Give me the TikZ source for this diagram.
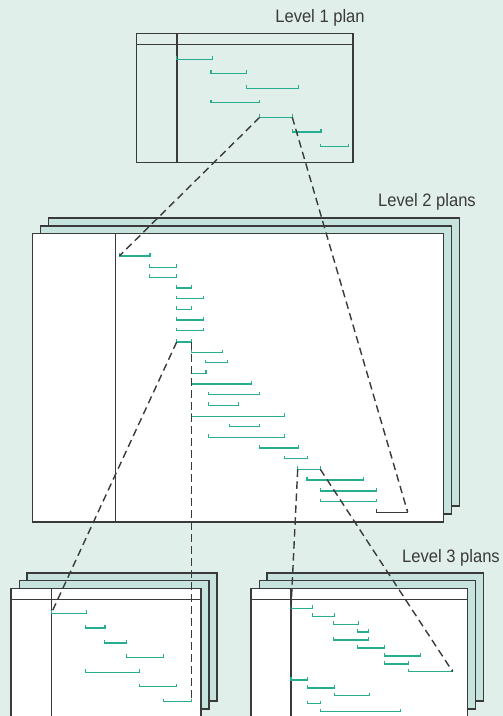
\documentclass[tikz,border=0pt]{standalone}
\usepackage{graphicx}
\usepackage{xcolor}
\usepackage{fontspec}
\setmainfont{Liberation Sans}
\definecolor{bgteal}{HTML}{E1EFEB}
\definecolor{sheetteal}{HTML}{C6E4DD}
\definecolor{barteal}{HTML}{27AD90}
\definecolor{framegray}{HTML}{3A3A3A}
\newcommand{\task}[5][barteal]{%
  \draw[taskbar, draw=#1] (#3,#5-3) -- (#3,#5) coordinate (#2-l) -- (#4,#5) coordinate (#2-r) -- (#4,#5-3);}
\newcommand{\plancaption}[1]{\scalebox{0.92}[1]{#1}}

\begin{document}
\begin{tikzpicture}[x=1pt, y=-1pt,
    frame/.style={draw=framegray, line width=1.6pt},
    sheet/.style={frame, fill=sheetteal},
    page/.style={frame, fill=white},
    taskbar/.style={line width=1.5pt},
    zoomline/.style={draw=framegray, line width=1.4pt, dash pattern=on 7.5pt off 4.5pt},
    caption/.style={anchor=base, text=framegray, font=\fontsize{18}{20}\selectfont}
  ]
  \fill[bgteal] (0,0) rectangle (503,716);
  \useasboundingbox (0,0) rectangle (503,716);
  \clip (0,0) rectangle (503,716);

  % level 1
  \node[caption] (cap1) at (320,22.7) {\plancaption{Level 1 plan}};
  \draw[frame] (136.5,33.5) rectangle (353,162.5);
  \draw[frame] (136.5,44.3) -- (353,44.3);
  \draw[frame] (176.7,33.5) -- (176.7,162.5);
  \task{a1}{176.7}{212.3}{59.3}
  \task{a2}{211}{246.7}{73.3}
  \task{a3}{246.7}{298.3}{88.3}
  \task{a4}{211}{259.7}{102.7}
  \task{a5}{259.7}{292.3}{117.3}
  \task{a6}{292.3}{321}{132}
  \task{a7}{320.3}{348.7}{146.7}

  % level 2
  \node[caption] (cap2) at (427,206.7) {\plancaption{Level 2 plans}};
  \draw[sheet] (48.3,217.7) rectangle (459.3,505.7);
  \draw[sheet] (40.3,225.7) rectangle (451.3,513.7);
  \draw[page] (32.3,233.5) rectangle (443.3,521.7);
  \draw[frame] (115.3,233.5) -- (115.3,521.7);
  \task{b1}{119.3}{150}{256}
  \task{b2}{149.7}{176.7}{267.3}
  \task{b3}{149.7}{176.7}{277.3}
  \task{b4}{176.7}{191.7}{288}
  \task{b5}{176.7}{203.3}{298.7}
  \task{b6}{176.7}{191.7}{309.3}
  \task{b7}{176.7}{203.3}{320}
  \task{b8}{176.7}{203.3}{330.7}
  \task{b9}{176.7}{191.7}{342}
  \task{b10}{191.7}{222.3}{352.7}
  \task{b11}{205.7}{227.3}{362.7}
  \task{b12}{191.7}{206}{373.3}
  \task{b13}{191.7}{251.7}{384}
  \task{b14}{208.7}{259.3}{394.7}
  \task{b15}{208.7}{238.3}{405.3}
  \task{b16}{191.7}{284.7}{416.3}
  \task{b17}{229.7}{259.3}{426.7}
  \task{b18}{208.7}{284.7}{437.3}
  \task{b19}{259.3}{298.3}{448}
  \task{b20}{284.3}{307.3}{458.7}
  \task{b21}{297.7}{320.3}{469.3}
  \task{b22}{307}{363.3}{480}
  \task{b23}{320.3}{376.3}{491}
  \task{b24}{320.3}{376.3}{501.7}
  \task[framegray]{b25}{376.3}{407.7}{512.3}

  % level 3, left
  \draw[sheet] (27,572.7) rectangle (216.7,700.7);
  \draw[sheet] (19.3,580.3) rectangle (208.7,708.7);
  \draw[page] (11,588.3) rectangle (200.7,730);
  \draw[frame] (11,599.3) -- (200.7,599.3);
  \draw[frame] (51.3,588.3) -- (51.3,730);
  \task{c1}{51.3}{86.7}{613.3}
  \task{c2}{85.7}{105}{628}
  \task{c3}{104.3}{126.7}{643}
  \task{c4}{126.7}{163.3}{657.3}
  \task{c5}{85.7}{139.7}{672.3}
  \task{c6}{139.7}{176.7}{686.7}
  \task{c7}{163.3}{191.7}{701.7}

  % level 3, right
  \node[caption] (cap3) at (451,562.3) {\plancaption{Level 3 plans}};
  \draw[sheet] (267,572.7) rectangle (483.3,700.7);
  \draw[sheet] (259.3,580.3) rectangle (475.3,708.7);
  \draw[page] (251,588.3) rectangle (467.3,730);
  \draw[frame] (251,599.3) -- (467.3,599.3);
  \draw[frame] (291,588.3) -- (291,730);
  \task{d1}{291}{312.7}{608.3}
  \task{d2}{312.3}{334.7}{616.3}
  \task{d3}{333.7}{358.7}{624.3}
  \task{d4}{357.3}{368.7}{632}
  \task{d5}{333.7}{368.7}{640}
  \task{d6}{357.3}{384.7}{648}
  \task{d7}{384.3}{420.3}{656}
  \task{d8}{384.3}{408.7}{664}
  \task{d9}{408.7}{452.7}{671.7}
  \task{d10}{291}{307.7}{680}
  \task{d11}{307.3}{334.3}{688}
  \task{d12}{334.3}{369.3}{695.7}
  \task{d13}{307.3}{320.7}{703.7}
  \task{d14}{320.7}{400.7}{711.7}

  % zoom lines
  \draw[zoomline] (a5-l) -- (b1-l);
  \draw[zoomline] (a5-r) -- (b25-r);
  \draw[zoomline] (b9-l) -- (c1-l);
  \draw[zoomline] (b9-r) -- (c7-r);
  \draw[zoomline] (b21-l) -- (d1-l);
  \draw[zoomline] (b21-r) -- (d9-r);
\end{tikzpicture}
\end{document}
